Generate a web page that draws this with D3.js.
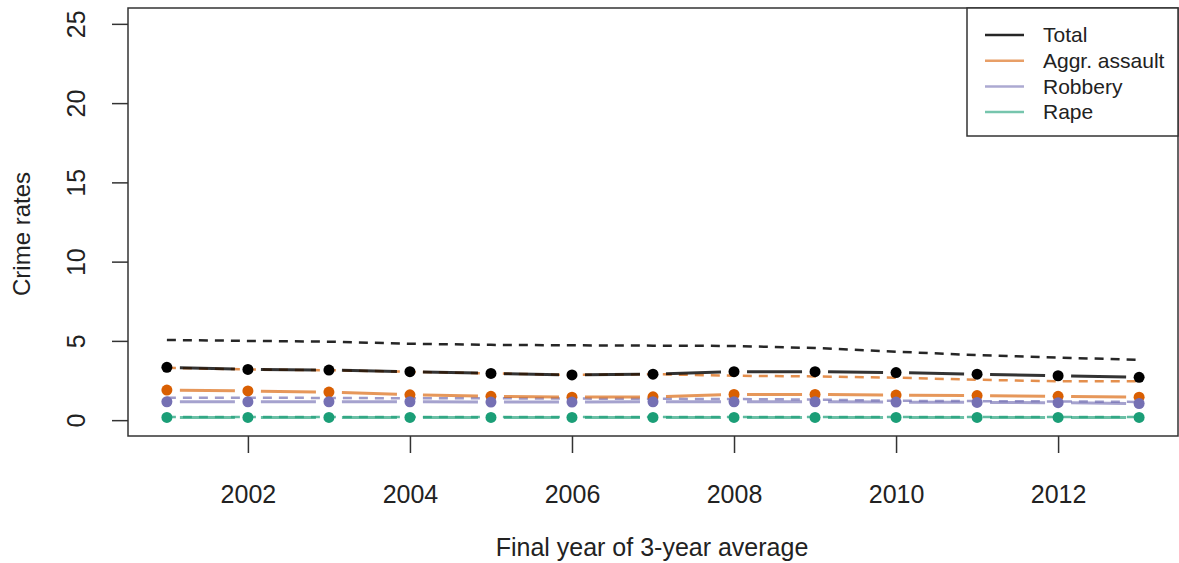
<!DOCTYPE html>
<html>
<head>
<meta charset="utf-8">
<script src="https://cdn.jsdelivr.net/npm/d3@7"></script>
<style>
  html, body { margin: 0; padding: 0; background: #fff; }
  svg { display: block; font-family: "Liberation Sans", Arial, sans-serif; }
</style>
</head>
<body>
<svg id="chart" width="1179" height="563"></svg>
<script>
// ---- data ----
const years = [2001, 2002, 2003, 2004, 2005, 2006, 2007, 2008, 2009, 2010, 2011, 2012, 2013];
const seriesNames = ["Total", "Aggr. assault", "Robbery", "Rape"];
// observed rates (points + solid lines)
const totalObs   = [3.33, 3.2, 3.16, 3.06, 2.95, 2.85, 2.9, 3.06, 3.06, 3.0, 2.9, 2.8, 2.7];
const assaultObs = [1.9, 1.84, 1.77, 1.6, 1.5, 1.45, 1.47, 1.62, 1.62, 1.58, 1.55, 1.5, 1.45];
const robberyObs = [1.16, 1.16, 1.16, 1.16, 1.14, 1.14, 1.16, 1.16, 1.16, 1.14, 1.12, 1.1, 1.05];
const rapeObs    = [0.17, 0.17, 0.17, 0.17, 0.17, 0.17, 0.17, 0.17, 0.17, 0.17, 0.17, 0.17, 0.17];
// comparison rates (dashed lines)
const totalCmp   = [5.06, 5.0, 4.95, 4.82, 4.75, 4.72, 4.7, 4.68, 4.55, 4.32, 4.1, 3.95, 3.8];
const assaultCmp = [3.3, 3.2, 3.15, 3.05, 2.95, 2.85, 2.9, 2.8, 2.76, 2.68, 2.55, 2.45, 2.45];
const robberyCmp = [1.42, 1.42, 1.4, 1.38, 1.38, 1.36, 1.35, 1.33, 1.3, 1.22, 1.2, 1.18, 1.15];
const rapeCmp    = [0.2, 0.2, 0.2, 0.2, 0.2, 0.2, 0.2, 0.2, 0.2, 0.2, 0.2, 0.2, 0.2];
const xTicks = [2002, 2004, 2006, 2008, 2010, 2012];
const yTicks = [0, 5, 10, 15, 20, 25];
const colors = ["#000000", "#d95f02", "#7570b3", "#1b9e77"];

const obs = [totalObs, assaultObs, robberyObs, rapeObs];
const cmp = [totalCmp, assaultCmp, robberyCmp, rapeCmp];

// ---- layout ----
const L = 128, R = 1178, T = 8, B = 436;
const svg = d3.select("#chart");
const x = d3.scaleLinear().domain([2000.52, 2013.48]).range([L, R]);
const y = d3.scaleLinear().domain([-1, 26]).range([B, T]);
const textCol = "#222";

// axes
const xAxis = svg.append("g").attr("transform", `translate(0,${B})`)
  .call(d3.axisBottom(x).tickValues(xTicks).tickFormat(d3.format("d")).tickSize(17).tickPadding(32));
xAxis.select(".domain").remove();
xAxis.selectAll("line").attr("stroke", "#333").attr("stroke-width", 1.5);
xAxis.selectAll("text").attr("font-size", 25).attr("fill", textCol).attr("font-family", "Liberation Sans, Arial, sans-serif");

const yAxis = svg.append("g").attr("transform", `translate(${L},0)`)
  .call(d3.axisLeft(y).tickValues(yTicks).tickSize(16).tickPadding(0));
yAxis.select(".domain").remove();
yAxis.selectAll("line").attr("stroke", "#333").attr("stroke-width", 1.5);
yAxis.selectAll("text")
  .attr("font-size", 25).attr("fill", textCol).attr("font-family", "Liberation Sans, Arial, sans-serif")
  .attr("text-anchor", "middle").attr("x", null)
  .attr("transform", "translate(-52,0) rotate(-90)")
  .attr("dy", "0.35em");

// axis titles
svg.append("text").attr("x", (L + R) / 2 - 1).attr("y", 556)
  .attr("text-anchor", "middle").attr("font-size", 25).attr("fill", textCol)
  .text("Final year of 3-year average");
svg.append("text").attr("transform", `translate(30,${(T + B) / 2 + 12}) rotate(-90)`)
  .attr("text-anchor", "middle").attr("font-size", 24).attr("fill", textCol)
  .text("Crime rates");

// dashed comparison lines
const line = d3.line().x((d, i) => x(years[i])).y(d => y(d));
cmp.forEach((s, k) => {
  svg.append("path").attr("d", line(s)).attr("fill", "none")
    .attr("stroke", colors[k]).attr("stroke-opacity", k === 0 ? 0.85 : 0.7)
    .attr("stroke-width", 2.5).attr("stroke-dasharray", "9,7");
});

// solid observed lines (type "b": segments with gaps around points)
const gap = 13;
obs.forEach((s, k) => {
  for (let i = 0; i < s.length - 1; i++) {
    const x1 = x(years[i]), y1 = y(s[i]), x2 = x(years[i + 1]), y2 = y(s[i + 1]);
    const dx = x2 - x1, dy = y2 - y1, len = Math.hypot(dx, dy);
    const ux = dx / len, uy = dy / len;
    svg.append("line")
      .attr("x1", x1 + ux * gap).attr("y1", y1 + uy * gap)
      .attr("x2", x2 - ux * gap).attr("y2", y2 - uy * gap)
      .attr("stroke", colors[k]).attr("stroke-opacity", k === 0 ? 0.8 : 0.65)
      .attr("stroke-width", 3);
  }
});

// points
obs.forEach((s, k) => {
  svg.append("g").selectAll("circle").data(s).join("circle")
    .attr("cx", (d, i) => x(years[i])).attr("cy", d => y(d))
    .attr("r", 5.5).attr("fill", colors[k]);
});

// plot box
svg.append("rect").attr("x", L).attr("y", T).attr("width", R - L).attr("height", B - T)
  .attr("fill", "none").attr("stroke", "#333").attr("stroke-width", 1.5);

// legend
const lg = svg.append("g");
lg.append("rect").attr("x", 967).attr("y", T).attr("width", R - 967).attr("height", 128)
  .attr("fill", "#fff").attr("stroke", "#333").attr("stroke-width", 1.5);
seriesNames.forEach((n, k) => {
  const yy = 35 + k * 25.7;
  lg.append("line").attr("x1", 985).attr("x2", 1024).attr("y1", yy).attr("y2", yy)
    .attr("stroke", colors[k]).attr("stroke-opacity", k === 0 ? 0.85 : 0.6).attr("stroke-width", 2.5);
  lg.append("text").attr("x", 1043).attr("y", yy).attr("dy", "0.35em")
    .attr("font-size", 21).attr("fill", textCol).text(n);
});
</script>
</body>
</html>
